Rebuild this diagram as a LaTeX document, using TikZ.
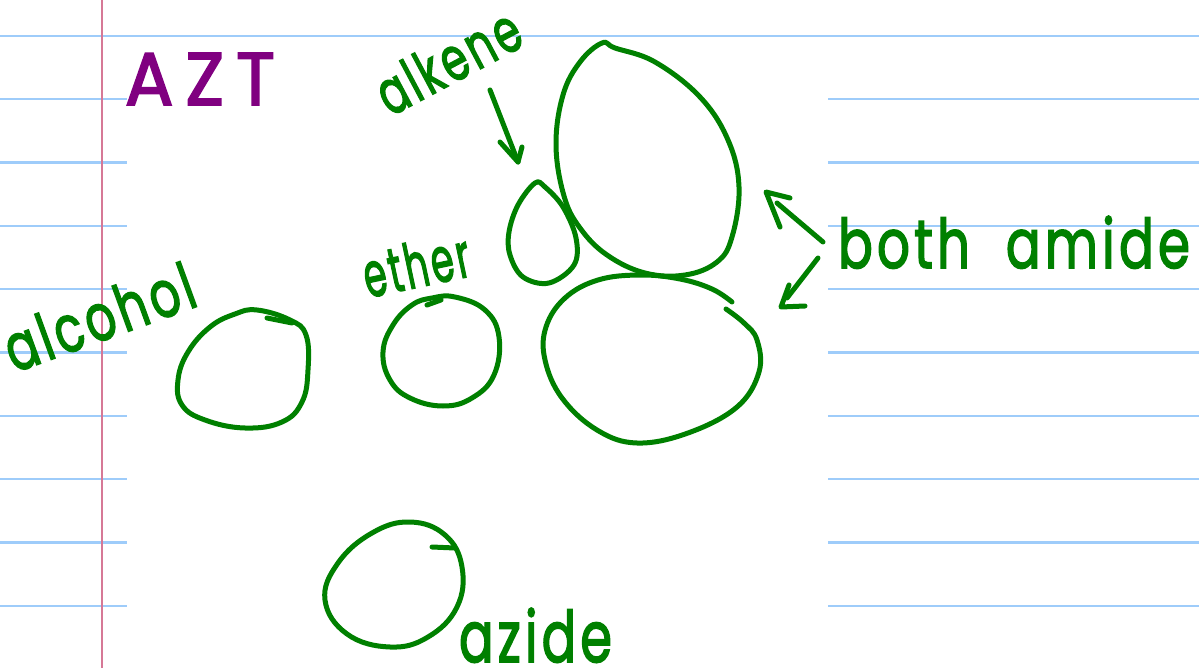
\documentclass[tikz,border=0pt]{standalone}
\usepackage{fontspec}
\setmainfont{Poppins}
\newfontfamily\hand{Poppins}[FakeBold=2.5, LetterSpace=8]
\usepackage{graphicx}
\definecolor{pen}{RGB}{0,128,0}
\definecolor{ink}{RGB}{128,0,128}
\definecolor{rulecol}{RGB}{158,204,250}
\definecolor{margincol}{RGB}{214,120,150}
\begin{document}
\begin{tikzpicture}[x=1pt,y=-1pt,
  stroke/.style={draw=pen, line width=5pt, line cap=round, line join=round},
  ruleline/.style={draw=rulecol, line width=2.2pt},
  marginline/.style={draw=margincol, line width=2pt},
  lbl/.style={inner sep=0pt, outer sep=0pt, text=pen, anchor=base west, font=\hand}]
\useasboundingbox (0,0) rectangle (1199,668);
\fill[white] (0,0) rectangle (1199,668);
% ruled paper
\draw[ruleline] (0,36) -- (1199,36);
\foreach \k in {1,...,9}{
  \pgfmathsetmacro\yy{36+63.3*\k}
  \draw[ruleline] (0,\yy) -- (127,\yy);
  \draw[ruleline] (828,\yy) -- (1199,\yy);
}
\draw[marginline] (102,0) -- (102,668);
% title
\node[lbl, text=ink] (azt) at (125,105) {\resizebox{150pt}{52pt}{A\,Z\,T}};
% labels
\node[lbl, rotate=20] (alcohol) at (14,373) {\resizebox{198pt}{48pt}{alcohol}};
\node[lbl, rotate=28] (alkene) at (390,117) {\resizebox{155pt}{45pt}{alkene}};
\node[lbl, rotate=12] (ether) at (368,298) {\resizebox{108pt}{46pt}{ether}};
\node[lbl] (amide) at (838,268) {\resizebox{352pt}{52pt}{both\ \ amide}};
\node[lbl] (azide) at (459,662) {\resizebox{153pt}{54pt}{azide}};
% alcohol ring
\draw[stroke] plot[smooth cycle, tension=0.7] coordinates {(257,310) (290,320) (306,335) (308,370) (302,402) (282,422) (245,428) (205,420) (182,405) (178,380) (188,352) (210,327) (235,314)};
\draw[stroke] (267,318) -- (292,323);
% ether ring
\draw[stroke] plot[smooth cycle, tension=0.7] coordinates {(455,297) (485,310) (499,337) (494,375) (472,398) (443,406) (410,398) (390,380) (383,352) (393,325) (412,305) (432,298)};
\draw[stroke] (427,305) -- (441,300);
% alkene ring (teardrop)
\coordinate (alkenetip) at (535,183);
\draw[stroke] plot[smooth cycle, tension=0.6] coordinates {(535,183) (545,187) (563,207) (576,238) (574,265) (549,283) (523,277) (510,255) (509,232) (518,205)};
% upper amide ring
\draw[stroke] plot[smooth cycle, tension=0.65] coordinates {(602,43) (615,48) (655,62) (700,97) (728,140) (739,187) (732,237) (717,262) (685,275) (645,273) (607,255) (580,228) (564,196) (556,145) (563,95) (580,62)};
% lower amide ring (open stroke)
\draw[stroke] plot[smooth, tension=0.65] coordinates {(732,302) (712,289) (680,279) (640,275) (598,280) (565,298) (546,327) (545,360) (562,398) (597,430) (637,443) (688,433) (737,407) (759,372) (757,340) (744,323) (726,309)};
% azide ring
\draw[stroke] plot[smooth cycle, tension=0.7] coordinates {(410,522) (445,535) (462,567) (457,607) (428,637) (390,647) (347,634) (325,600) (338,563) (372,533)};
\draw[stroke] (432,547) -- (455,548);
% arrows
\coordinate (a1s) at (490,90);
\coordinate (a1t) at (518,162);
\draw[stroke] (a1s) -- (a1t);
\draw[stroke] (500,142) -- (a1t) -- (522,147);
\coordinate (a2s) at (823,242);
\coordinate (a2t) at (766,192);
\draw[stroke] (a2s) -- (777,203);
\draw[stroke] (780,227) -- (a2t) -- (790,198);
\coordinate (a3s) at (818,258);
\coordinate (a3t) at (781,307);
\draw[stroke] (a3s) -- (787,298);
\draw[stroke] (789,285) -- (a3t) -- (805,306);
\end{tikzpicture}
\end{document}
